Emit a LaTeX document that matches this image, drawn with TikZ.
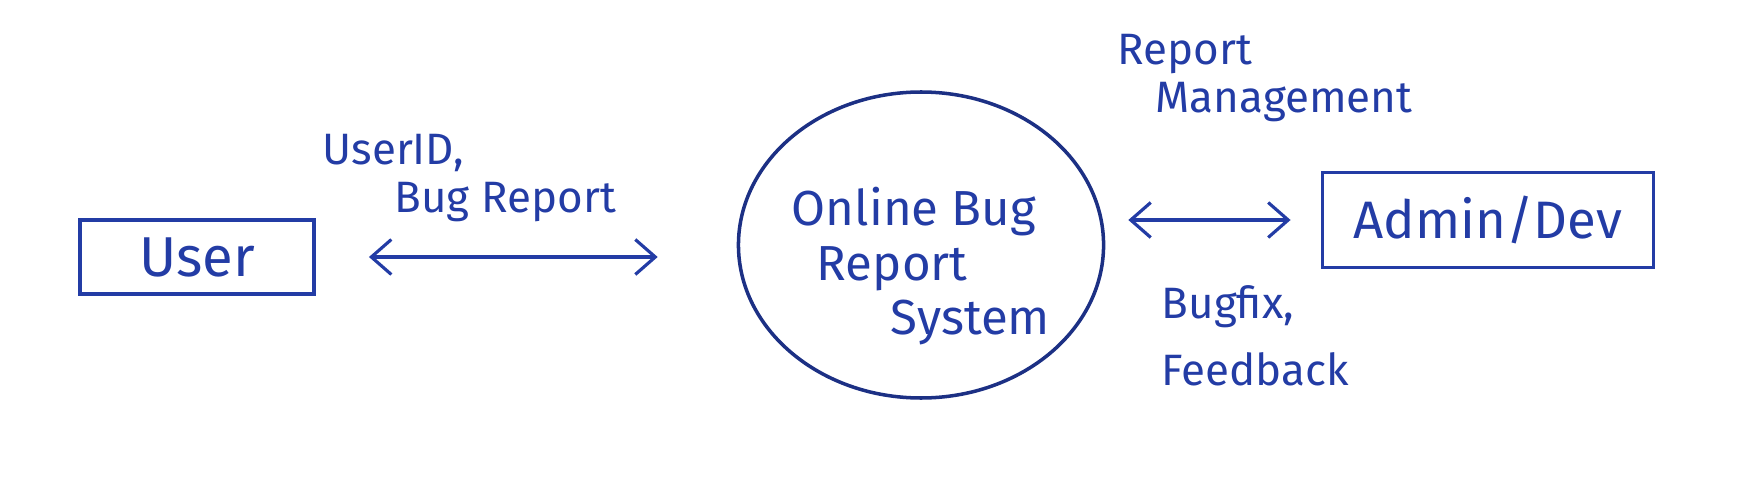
\documentclass[tikz,border=0pt]{standalone}
\usepackage{fontspec}
\setmainfont{Fira Sans}
\usepackage{tikz}
\usetikzlibrary{shapes.geometric, arrows.meta, positioning}
\definecolor{inkblue}{RGB}{35,60,165}
\tikzset{
  entity_box/.style={rectangle, draw=inkblue, line width=1.1pt, inner sep=0pt, text=inkblue},
  process_circle/.style={ellipse, draw=inkblue!80!black, line width=1pt, inner sep=0pt, minimum width=3.54cm, minimum height=3.06cm, text=inkblue, align=left, font=\fontsize{14}{15.5}\selectfont},
  flow_label/.style={text=inkblue, align=left, inner sep=0pt, font=\fontsize{12.5}{13.5}\selectfont},
  flow/.style={<->, line width=0.9pt, inkblue}
}

\begin{document}
\begin{tikzpicture}[>={Straight Barb[length=2mm, width=3.5mm]}]

  \useasboundingbox (0,0) rectangle (17.42,4.82);

  % External entities and the process
  \node[entity_box, minimum width=2.34cm, minimum height=0.74cm, font=\fontsize{16}{18}\selectfont] (user) at (1.97, 2.25) {User};
  \node[process_circle] (obrs) at (9.21, 2.37) {\rule{0pt}{23pt}Online Bug\\\hspace{0.25cm}Report\\\hspace{0.99cm}System};
  \node[entity_box, minimum width=3.31cm, minimum height=0.95cm, font=\fontsize{15}{17}\selectfont] (admin) at (14.88, 2.62) {Admin/Dev};

  % Data flows
  \draw[flow, shorten <=0.53cm, shorten >=0.79cm] (user.east) -- (user.east -| obrs.west);
  \draw[flow, shorten <=0.23cm, shorten >=0.30cm] (obrs.east |- admin.west) -- (admin.west);

  % Flow labels
  \node[flow_label, anchor=west] (lbl_user) at (3.22, 3.04) {UserID,\\\hspace{0.72cm}Bug Report};
  \node[flow_label, anchor=west] (lbl_mgmt) at (11.17, 4.04) {Report\\\hspace{0.38cm}Management};
  \node[flow_label, anchor=west, font=\fontsize{12.5}{19}\selectfont] (lbl_fix) at (11.61, 1.46) {Bugfix,\\Feedback};

\end{tikzpicture}
\end{document}
